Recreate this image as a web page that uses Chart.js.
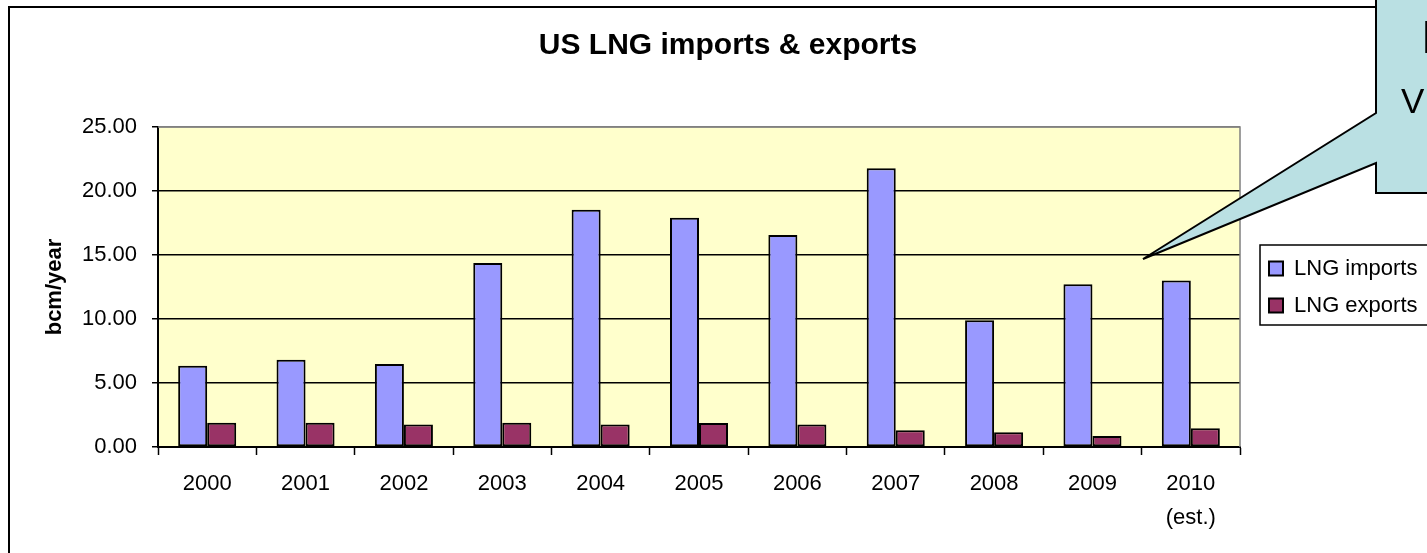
<!DOCTYPE html>
<html>
<head>
<meta charset="utf-8">
<title>US LNG imports & exports</title>
<script src="https://cdn.jsdelivr.net/npm/chart.js@4.4.1/dist/chart.umd.min.js"></script>
<style>
  html, body { margin: 0; padding: 0; background: #fff; overflow: hidden; }
  #wrap { width: 1460px; height: 600px; }
</style>
</head>
<body>
<div id="wrap"><canvas id="chart" width="1460" height="600"></canvas></div>
<script>
var years = ['2000', '2001', '2002', '2003', '2004', '2005', '2006', '2007', '2008', '2009', ['2010', '(est.)']];
var lngImports = [6.34, 6.81, 6.49, 14.37, 18.54, 17.91, 16.56, 21.77, 9.91, 12.72, 13.01];
var lngExports = [1.90, 1.90, 1.75, 1.90, 1.75, 1.88, 1.75, 1.30, 1.15, 0.86, 1.46];
var yTicks = [0, 5, 10, 15, 20, 25];

var fontFamily = '"Liberation Sans", Arial, sans-serif';
Chart.defaults.font.family = fontFamily;
Chart.defaults.color = '#000';

// yellow plot area, grey frame on top/right
var plotBackground = {
  id: 'plotBackground',
  beforeDraw: function(chart) {
    var a = chart.chartArea, ctx = chart.ctx;
    ctx.save();
    ctx.fillStyle = '#FFFFCC';
    ctx.fillRect(a.left, a.top, a.right - a.left, a.bottom - a.top);
    ctx.restore();
  },
  afterDatasetsDraw: function(chart) {
    var a = chart.chartArea, ctx = chart.ctx;
    ctx.save();
    ctx.strokeStyle = '#808080';
    ctx.lineWidth = 1.5;
    ctx.beginPath();
    ctx.moveTo(a.left, a.top);
    ctx.lineTo(a.right, a.top);
    ctx.lineTo(a.right, a.bottom);
    ctx.stroke();
    ctx.restore();
  }
};

// outer chart frame, legend frame and the callout
var decorations = {
  id: 'decorations',
  afterDraw: function(chart) {
    var ctx = chart.ctx;
    var lg = chart.legend;
    ctx.save();
    ctx.strokeStyle = '#000';

    ctx.lineWidth = 2;
    ctx.strokeRect(9, 7, 1600, 700);

    var mid = (lg.top + lg.bottom) / 2;
    ctx.lineWidth = 1.5;
    ctx.strokeRect(lg.left + 6, mid - 42, 300, 80);

    ctx.beginPath();
    ctx.moveTo(1376, -20);
    ctx.lineTo(1600, -20);
    ctx.lineTo(1600, 193);
    ctx.lineTo(1376, 193);
    ctx.lineTo(1376, 163);
    ctx.lineTo(1143, 259);
    ctx.lineTo(1376, 113);
    ctx.closePath();
    ctx.fillStyle = '#BAE0E3';
    ctx.fill();
    ctx.lineWidth = 2;
    ctx.stroke();

    ctx.fillStyle = '#000';
    ctx.textBaseline = 'alphabetic';
    ctx.textAlign = 'left';
    ctx.font = '46px ' + fontFamily;
    ctx.fillText('I', 1421, 53);
    ctx.font = '35px ' + fontFamily;
    ctx.fillText('V', 1401, 113);
    ctx.restore();
  }
};

var chart = new Chart('chart', {
  type: 'bar',
  data: {
    labels: years,
    datasets: [
      {
        label: 'LNG imports',
        data: lngImports,
        backgroundColor: '#9999FF',
        borderColor: '#000',
        borderWidth: 2,
        borderSkipped: false,
        categoryPercentage: 0.59,
        barPercentage: 1.0
      },
      {
        label: 'LNG exports',
        data: lngExports,
        backgroundColor: '#993366',
        borderColor: '#000',
        borderWidth: 2,
        borderSkipped: false,
        categoryPercentage: 0.59,
        barPercentage: 1.0
      }
    ]
  },
  options: {
    responsive: false,
    animation: false,
    layout: { padding: { left: 28.5, right: 32.5, top: 0, bottom: 0 } },
    scales: {
      x: {
        afterFit: function(s) { s.height = 153; },
        grid: {
          display: true,
          drawOnChartArea: false,
          drawTicks: true,
          tickLength: 8,
          tickColor: '#000',
          tickWidth: 1.5,
          offset: true
        },
        border: { color: '#000', width: 2 },
        ticks: {
          font: { size: 22, lineHeight: 1.545 },
          color: '#000',
          padding: 12,
          maxRotation: 0,
          autoSkip: false
        }
      },
      y: {
        min: 0,
        max: 25,
        afterFit: function(s) { s.width = 129.5; },
        afterBuildTicks: function(s) {
          s.ticks = yTicks.map(function(v) { return { value: v }; });
        },
        grid: {
          color: function(c) { return c.tick && c.tick.value === 25 ? '#808080' : '#000'; },
          lineWidth: 1.5,
          drawTicks: true,
          tickLength: 6,
          tickColor: '#000',
          tickWidth: 1.5
        },
        border: { color: '#000', width: 2 },
        ticks: {
          font: { size: 22 },
          color: '#000',
          padding: 15,
          callback: function(value) { return Number(value).toFixed(2); }
        },
        title: {
          display: true,
          text: 'bcm/year',
          font: { size: 22, weight: 'bold' },
          color: '#000',
          padding: { top: 13, bottom: 0 }
        }
      },
      y2: {
        type: 'linear',
        position: 'right',
        display: true,
        afterFit: function(s) { s.width = 14; },
        grid: { display: false },
        border: { display: false },
        ticks: { display: false }
      }
    },
    plugins: {
      title: {
        display: true,
        text: 'US LNG imports & exports',
        font: { size: 30, weight: 'bold' },
        color: '#000',
        padding: { top: 28, bottom: 63 }
      },
      legend: {
        display: true,
        position: 'right',
        fullSize: false,
        labels: {
          boxWidth: 14,
          boxHeight: 14,
          padding: 15,
          color: '#000',
          font: { size: 22 }
        }
      },
      tooltip: { enabled: false }
    }
  },
  plugins: [plotBackground, decorations]
});
</script>
</body>
</html>
